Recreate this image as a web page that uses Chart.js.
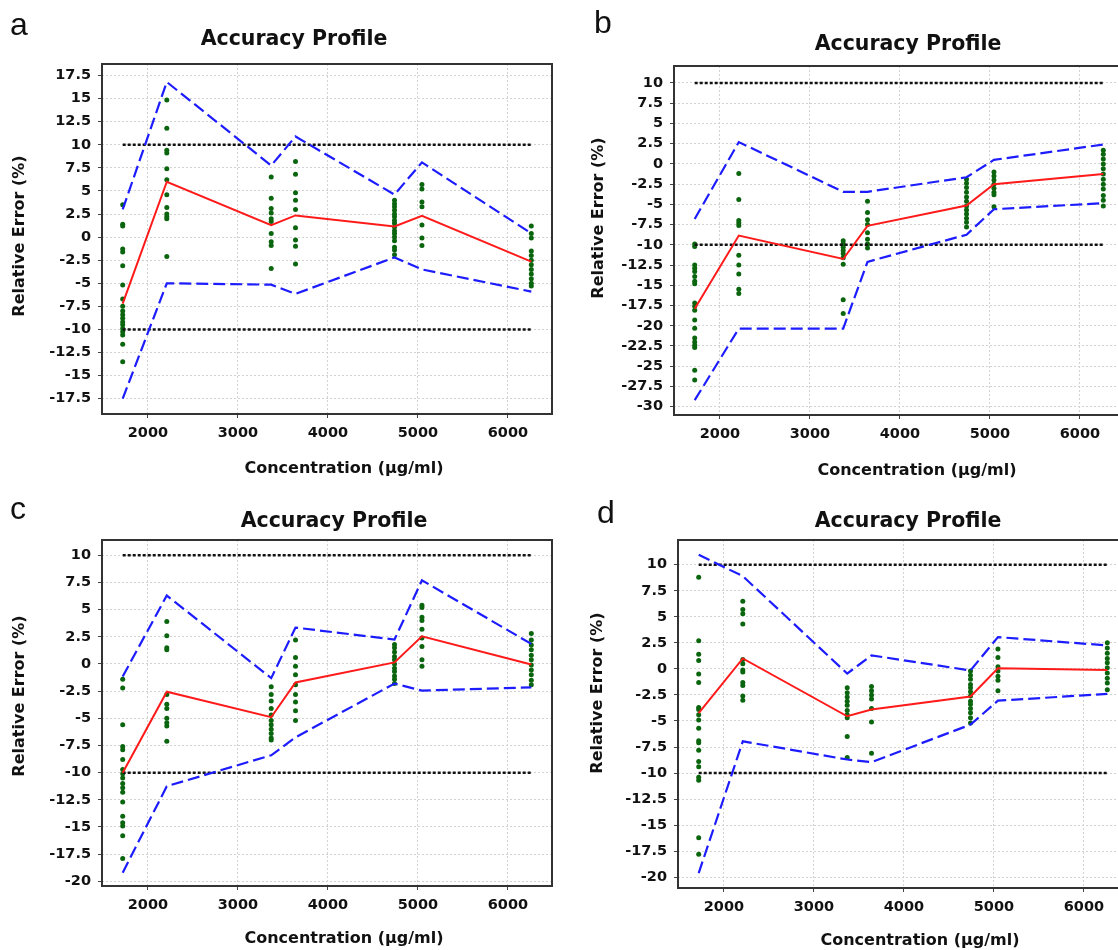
<!DOCTYPE html>
<html>
<head>
<meta charset="utf-8">
<script src="https://cdn.jsdelivr.net/npm/chart.js@4.4.0/dist/chart.umd.min.js"></script>
<style>
  html, body { margin: 0; padding: 0; background: #fff; }
  #page { position: relative; width: 1118px; height: 950px; overflow: hidden; background: #fff; }
  #page canvas { position: absolute; }
</style>
</head>
<body>
<div id="page">
  <canvas id="chartA" width="560" height="480" style="left:0px;top:0px"></canvas>
  <canvas id="chartB" width="600" height="480" style="left:558px;top:0px"></canvas>
  <canvas id="chartC" width="560" height="470" style="left:0px;top:480px"></canvas>
  <canvas id="chartD" width="600" height="470" style="left:558px;top:480px"></canvas>
</div>
<script>
// Niveles de concentración (µg/ml) y límites de aceptación (%)
const concentrations = [1720, 2210, 3370, 3640, 4740, 5045, 6260];
const acceptanceLimits = [-10, 10];
const xTicks = [2000, 3000, 4000, 5000, 6000];

// Panel a
const meanA  = [-7.2, 6.0, 1.3, 2.35, 1.15, 2.3, -2.65];
const upperA = [3.0, 16.8, 7.75, 10.9, 4.6, 8.1, 0.4];
const lowerA = [-17.5, -5.0, -5.15, -6.15, -2.2, -3.5, -5.9];
const pointsA = [
  [3.5, 1.4, 1.2, -1.3, -1.6, -3.1, -5.2, -6.7, -7.5, -8.0, -8.4, -8.8, -9.2, -9.5, -9.9, -10.25, -10.6, -11.6, -13.5],
  [14.85, 11.8, 9.4, 9.1, 7.4, 6.2, 4.6, 3.2, 2.5, 2.2, 2.0, -2.1],
  [6.5, 4.2, 3.1, 2.6, 2.0, 1.7, 0.4, -0.5, -0.9, -3.4],
  [8.2, 6.8, 4.8, 4.0, 3.0, 1.0, -0.3, -1.0, -2.9],
  [4.0, 3.6, 3.3, 2.9, 2.5, 2.2, 1.8, 1.5, 1.1, 0.7, 0.4, 0.0, -0.4, -1.1, -1.4, -1.9],
  [5.7, 5.2, 3.8, 3.3, 1.3, -0.1, -0.9],
  [1.2, 0.4, -0.1, -1.5, -2.0, -2.5, -3.0, -3.5, -4.0, -4.5, -5.0, -5.3]
];
const yTicksA = [17.5, 15, 12.5, 10, 7.5, 5, 2.5, 0, -2.5, -5, -7.5, -10, -12.5, -15, -17.5];

// Panel b
const meanB  = [-17.9, -8.85, -11.75, -7.65, -5.15, -2.5, -1.25];
const upperB = [-6.8, 2.7, -3.45, -3.45, -1.65, 0.5, 2.4];
const lowerB = [-29.2, -20.35, -20.35, -12.1, -8.75, -5.6, -4.85];
const pointsB = [
  [-9.9, -10.2, -12.5, -12.9, -13.3, -13.9, -14.5, -14.8, -17.2, -17.6, -18.1, -19.3, -20.3, -21.5, -22.0, -22.4, -22.7, -25.5, -26.7],
  [-1.2, -4.4, -7.0, -7.3, -7.6, -11.3, -12.5, -13.6, -15.5, -16.0],
  [-9.5, -9.9, -10.3, -10.7, -11.1, -11.6, -12.4, -16.8, -18.5],
  [-4.6, -6.0, -6.9, -7.5, -8.5, -9.3, -9.9, -10.4],
  [-1.9, -2.4, -2.9, -3.5, -4.1, -4.6, -5.2, -5.7, -6.2, -6.7, -7.2, -7.8],
  [-1.0, -1.5, -2.0, -2.5, -3.0, -3.5, -3.8, -5.3],
  [1.7, 1.2, 0.6, 0.0, -0.6, -1.25, -1.9, -2.5, -3.1, -3.9, -4.5, -5.2]
];
const yTicksB = [10, 7.5, 5, 2.5, 0, -2.5, -5, -7.5, -10, -12.5, -15, -17.5, -20, -22.5, -25, -27.5, -30];

// Panel c
const meanC  = [-10.0, -2.55, -4.9, -1.7, 0.15, 2.55, -0.05];
const upperC = [-1.15, 6.3, -1.3, 3.35, 2.25, 7.7, 1.85];
const lowerC = [-19.2, -11.25, -8.4, -6.75, -1.8, -2.45, -2.15];
const pointsC = [
  [-1.4, -2.2, -5.6, -7.6, -7.9, -8.8, -9.7, -10.1, -10.5, -11.0, -11.4, -11.8, -12.7, -14.0, -14.6, -14.9, -15.8, -17.9],
  [3.9, 2.6, 1.5, 1.3, -2.8, -3.7, -4.1, -5.0, -5.4, -5.7, -7.1],
  [-2.1, -2.8, -3.4, -4.1, -4.7, -5.2, -5.6, -6.0, -6.4, -6.8, -7.0],
  [2.2, 0.6, -0.2, -1.0, -1.9, -2.8, -3.5, -4.3, -5.2],
  [1.8, 1.5, 1.1, 0.7, 0.4, 0.0, -0.4, -0.7, -1.1, -1.4, -1.8],
  [5.4, 5.2, 4.3, 4.0, 3.2, 2.4, 1.6, 0.4, -0.2],
  [2.8, 2.2, 1.75, 1.3, 0.8, 0.4, -0.1, -0.55, -1.0, -1.5, -1.9]
];
const yTicksC = [10, 7.5, 5, 2.5, 0, -2.5, -5, -7.5, -10, -12.5, -15, -17.5, -20];

// Panel d
const meanD  = [-4.25, 1.0, -4.55, -3.9, -2.65, 0.05, -0.1];
const upperD = [10.95, 8.9, -0.45, 1.3, -0.15, 3.05, 2.25];
const lowerD = [-19.6, -6.95, -8.7, -8.95, -5.35, -3.05, -2.4];
const pointsD = [
  [8.8, 2.7, 1.4, 0.8, -0.5, -1.3, -3.7, -3.9, -4.4, -4.9, -5.7, -6.9, -7.1, -7.8, -8.9, -9.4, -10.4, -10.7, -16.2, -17.8],
  [6.5, 5.7, 5.3, 4.3, 0.9, 0.5, -0.1, -0.3, -1.3, -1.6, -2.6, -3.0],
  [-1.8, -2.3, -2.7, -3.1, -3.5, -4.0, -4.4, -4.7, -6.5, -8.5],
  [-1.7, -2.1, -2.5, -2.9, -3.8, -5.1, -8.1],
  [-0.2, -0.6, -1.0, -1.5, -1.8, -2.2, -2.6, -3.1, -3.4, -3.8, -4.2, -4.7, -5.2],
  [1.9, 1.1, 0.2, -0.2, -0.7, -1.1, -2.1],
  [2.5, 2.0, 1.5, 1.0, 0.6, 0.1, -0.4, -0.9, -1.35, -2.0]
];
const yTicksD = [10, 7.5, 5, 2.5, 0, -2.5, -5, -7.5, -10, -12.5, -15, -17.5, -20];

const titleText = 'Accuracy Profile';
const xTitleText = 'Concentration (µg/ml)';
const yTitleText = 'Relative Error (%)';

// Fuentes
const FONT = '"DejaVu Sans", Verdana, sans-serif';
const tickFont = { family: FONT, weight: 'bold', size: 14.5 };

// Marco negro alrededor del área del gráfico
const framePlugin = {
    id: 'frame',
    beforeDatasetsDraw(chart) {
        const a = chart.chartArea;
        const ctx = chart.ctx;
        ctx.save();
        ctx.strokeStyle = '#333';
        ctx.lineWidth = 2;
        ctx.strokeRect(a.left, a.top, a.right - a.left, a.bottom - a.top);
        ctx.restore();
    }
};

// Letra del panel, título y títulos de ejes (coordenadas de página)
const panelTextPlugin = {
    id: 'panelText',
    afterDraw(chart, args, o) {
        const ctx = chart.ctx;
        const dx = o.offset[0], dy = o.offset[1];
        ctx.save();
        ctx.fillStyle = '#111';

        ctx.font = '32px "Liberation Sans", Arial, sans-serif';
        ctx.textAlign = 'left';
        ctx.textBaseline = 'alphabetic';
        ctx.fillText(o.letter, o.letterPos[0] - dx, o.letterPos[1] - dy);

        ctx.font = 'bold 20.5px ' + FONT;
        ctx.textAlign = 'center';
        ctx.fillText(titleText, o.titlePos[0] - dx, o.titlePos[1] - dy);

        ctx.font = 'bold 16px ' + FONT;
        ctx.fillText(xTitleText, o.xTitlePos[0] - dx, o.xTitlePos[1] - dy);

        ctx.translate(o.yTitlePos[0] - dx, o.yTitlePos[1] - dy);
        ctx.rotate(-Math.PI / 2);
        ctx.textBaseline = 'middle';
        ctx.fillText(yTitleText, 0, 0);
        ctx.restore();
    }
};

function toXY(values) {
    return values.map((v, i) => ({ x: concentrations[i], y: v }));
}

function limitLine(v) {
    return [
        { x: concentrations[0], y: v },
        { x: concentrations[concentrations.length - 1], y: v }
    ];
}

function buildChart(canvasId, p) {
    // Puntos individuales (verde)
    const scatter = [];
    p.points.forEach((level, i) => {
        level.forEach(v => scatter.push({ x: concentrations[i], y: v }));
    });

    const lineBase = { showLine: true, pointRadius: 0, fill: false, tension: 0 };

    new Chart(document.getElementById(canvasId), {
        type: 'scatter',
        data: {
            datasets: [
                Object.assign({ data: toXY(p.mean), borderColor: '#ff1a1a', borderWidth: 2, order: 1 }, lineBase),
                Object.assign({ data: toXY(p.upper), borderColor: '#1c1cff', borderWidth: 2.2, borderDash: [12, 5], order: 2 }, lineBase),
                Object.assign({ data: toXY(p.lower), borderColor: '#1c1cff', borderWidth: 2.2, borderDash: [12, 5], order: 2 }, lineBase),
                Object.assign({ data: limitLine(acceptanceLimits[1]), borderColor: '#111', borderWidth: 2.5, borderDash: [3, 2], order: 3 }, lineBase),
                Object.assign({ data: limitLine(acceptanceLimits[0]), borderColor: '#111', borderWidth: 2.5, borderDash: [3, 2], order: 3 }, lineBase),
                { data: scatter, backgroundColor: '#0b650f', borderWidth: 0, pointRadius: 2.5, order: 5 }
            ]
        },
        options: {
            responsive: false,
            animation: false,
            events: [],
            layout: { padding: { top: p.padTop, right: p.padRight, bottom: 0, left: 0 } },
            plugins: {
                legend: { display: false },
                tooltip: { enabled: false },
                panelText: {
                    offset: p.offset,
                    letter: p.letter,
                    letterPos: p.letterPos,
                    titlePos: p.titlePos,
                    xTitlePos: p.xTitlePos,
                    yTitlePos: p.yTitlePos
                }
            },
            scales: {
                x: {
                    type: 'linear',
                    min: 1490,
                    max: 6490,
                    afterFit: s => { s.height = p.xAxisHeight; },
                    afterBuildTicks: s => { s.ticks = xTicks.map(v => ({ value: v })); },
                    ticks: { callback: v => String(v), font: tickFont, color: '#111', padding: 7, maxRotation: 0, autoSkip: false },
                    grid: { color: '#d2d2d2', lineWidth: 1, tickColor: '#444', tickLength: 4, tickWidth: 1, tickBorderDash: [] },
                    border: { display: false, dash: [2, 2] }
                },
                y: {
                    type: 'linear',
                    min: p.yMin,
                    max: p.yMax,
                    afterFit: s => { s.width = p.yAxisWidth; },
                    afterBuildTicks: s => {
                        s.ticks = p.yTicks.slice().sort((a, b) => a - b).map(v => ({ value: v }));
                    },
                    ticks: { callback: v => String(v), font: tickFont, color: '#111', padding: 7, autoSkip: false },
                    grid: { color: '#d2d2d2', lineWidth: 1, tickColor: '#444', tickLength: 4, tickWidth: 1, tickBorderDash: [] },
                    border: { display: false, dash: [2, 2] }
                }
            }
        },
        plugins: [framePlugin, panelTextPlugin]
    });
}

buildChart('chartA', {
    mean: meanA, upper: upperA, lower: lowerA, points: pointsA, yTicks: yTicksA,
    yMin: -19.16, yMax: 18.75,
    offset: [0, 0], padTop: 64, padRight: 8, yAxisWidth: 102, xAxisHeight: 66,
    letter: 'a', letterPos: [10, 35], titlePos: [294, 45], xTitlePos: [344, 473], yTitlePos: [20, 236]
});

buildChart('chartB', {
    mean: meanB, upper: upperB, lower: lowerB, points: pointsB, yTicks: yTicksB,
    yMin: -31.03, yMax: 12.1,
    offset: [558, 0], padTop: 66, padRight: 34, yAxisWidth: 116, xAxisHeight: 65,
    letter: 'b', letterPos: [594, 33], titlePos: [908, 50], xTitlePos: [917, 475], yTitlePos: [599, 218]
});

buildChart('chartC', {
    mean: meanC, upper: upperC, lower: lowerC, points: pointsC, yTicks: yTicksC,
    yMin: -20.43, yMax: 11.41,
    offset: [0, 480], padTop: 60, padRight: 8, yAxisWidth: 102, xAxisHeight: 64,
    letter: 'c', letterPos: [10, 519], titlePos: [334, 527], xTitlePos: [344, 943], yTitlePos: [20, 696]
});

buildChart('chartD', {
    mean: meanD, upper: upperD, lower: lowerD, points: pointsD, yTicks: yTicksD,
    yMin: -21.03, yMax: 12.37,
    offset: [558, 480], padTop: 60, padRight: 30, yAxisWidth: 120, xAxisHeight: 62,
    letter: 'd', letterPos: [597, 523], titlePos: [908, 527], xTitlePos: [920, 945], yTitlePos: [598, 693]
});
</script>
</body>
</html>
